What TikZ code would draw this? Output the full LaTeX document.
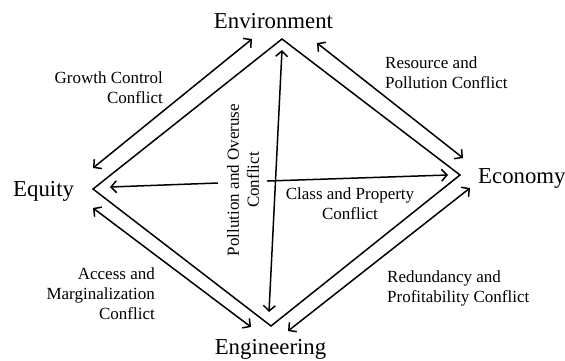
\documentclass[tikz,border=0pt]{standalone}
\usepackage{fontspec}
\setmainfont{Liberation Serif}
\usetikzlibrary{arrows.meta}
\begin{document}
\begin{tikzpicture}[x=1pt,y=-1pt,
  edge/.style={line width=1.5pt,line join=miter},
  conn/.style={line width=1.5pt,{Straight Barb[length=5.5pt,width=12pt,line width=1.5pt]}-{Straight Barb[length=5.5pt,width=12pt,line width=1.5pt]}},
  oneway/.style={line width=1.5pt,-{Straight Barb[length=5.5pt,width=12pt,line width=1.5pt]}},
  big/.style={inner sep=0pt,font=\fontsize{22.8}{26}\selectfont},
  small/.style={inner sep=0pt,font=\fontsize{17}{20}\selectfont}]
\useasboundingbox (0,0) rectangle (565,360);
% diamond vertices
\coordinate (vT) at (282,39);
\coordinate (vL) at (93,189);
\coordinate (vR) at (460,175);
\coordinate (vB) at (271,326);
\draw[edge] (vT) -- (vR) -- (vB) -- (vL) -- cycle;
% vertex labels
\node[big,anchor=base] (env) at (273.5,28) {Environment};
\node[big,anchor=base west] (equ) at (13,196) {Equity};
\node[big,anchor=base west] (eco) at (478,183) {Economy};
\node[big,anchor=base] (eng) at (270.5,354.5) {Engineering};
% arrow end points
\coordinate (tl1) at (93,168);  \coordinate (tl2) at (252,39);
\coordinate (tr1) at (317,43);  \coordinate (tr2) at (463,158);
\coordinate (br1) at (470,188); \coordinate (br2) at (288,331);
\coordinate (bl1) at (93,208);  \coordinate (bl2) at (251,327);
\coordinate (vt1) at (282,50);  \coordinate (vt2) at (269,312);
\coordinate (lc) at (218,183);  \coordinate (lt) at (110,187);
\coordinate (ctr) at (268,181); \coordinate (rt) at (448,175);
\draw[conn] (tl1) -- (tl2);
\draw[conn] (tr1) -- (tr2);
\draw[conn] (br1) -- (br2);
\draw[conn] (bl1) -- (bl2);
\draw[conn] (vt1) -- (vt2);
\draw[oneway] (lc) -- (lt);
\draw[oneway] (ctr) -- (rt);
\fill (ctr) circle (1.1pt);
% conflict labels
\node[small,anchor=east,align=right] (growth) at (163,88) {Growth Control\\Conflict};
\node[small,anchor=west,align=left] (resource) at (385,72.5) {Resource and\\Pollution Conflict};
\node[small,anchor=east,align=right] (access) at (155,293.5) {Access and\\Marginalization\\Conflict};
\node[small,anchor=west,align=left] (redund) at (387,288.5) {Redundancy and\\Profitability Conflict};
\node[small,align=center] (klass) at (350,204) {Class and Property\\Conflict};
\node[small,align=center,rotate=90] (pollut) at (243,180) {Pollution and Overuse\\Conflict};
\end{tikzpicture}
\end{document}
